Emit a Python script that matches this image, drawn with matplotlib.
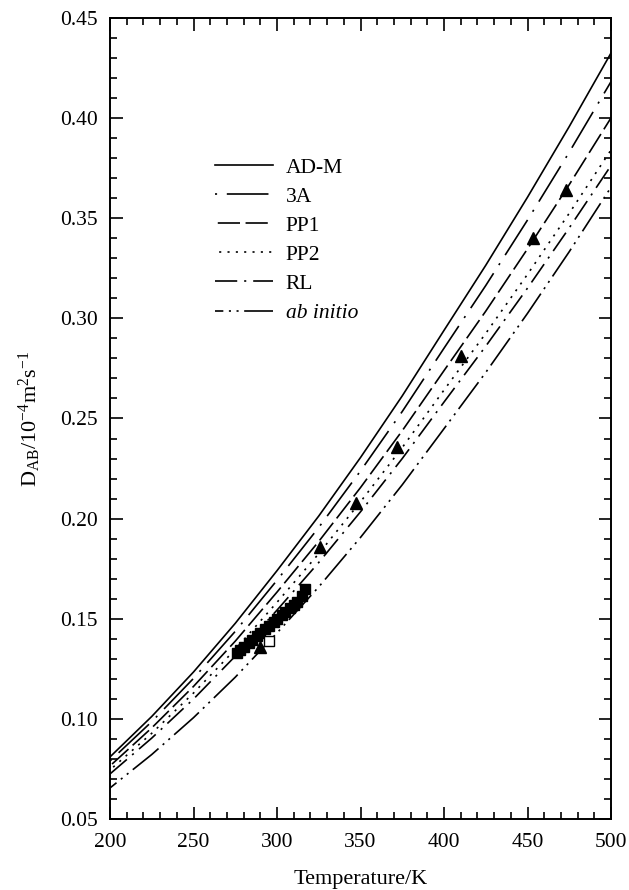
import matplotlib
matplotlib.use("Agg")
import matplotlib.pyplot as plt

# teploty, pro ktere jsou odectene hodnoty krivek
teploty = [200, 225, 250, 275, 300, 325, 350, 375, 400, 425, 450, 475, 500]

# D_AB / 1e-4 m^2 s^-1
ad_m = [0.0810, 0.1012, 0.1234, 0.1477, 0.1740, 0.2013, 0.2305, 0.2613, 0.2940, 0.3265, 0.3605, 0.3958, 0.4325]
a3 = [0.0790, 0.0986, 0.1202, 0.1437, 0.1692, 0.1956, 0.2238, 0.2535, 0.2851, 0.3164, 0.3491, 0.3830, 0.4182]
pp1 = [0.0765, 0.0955, 0.1162, 0.1388, 0.1633, 0.1886, 0.2155, 0.2439, 0.2739, 0.3036, 0.3347, 0.3668, 0.4001]
pp2 = [0.0745, 0.0928, 0.1129, 0.1347, 0.1582, 0.1825, 0.2084, 0.2355, 0.2642, 0.2925, 0.3220, 0.3525, 0.3841]
rl = [0.0725, 0.0904, 0.1099, 0.1313, 0.1543, 0.1781, 0.2034, 0.2300, 0.2582, 0.2861, 0.3151, 0.3452, 0.3763]
ab_initio = [0.0655, 0.0822, 0.1006, 0.1208, 0.1429, 0.1659, 0.1906, 0.2169, 0.2449, 0.2730, 0.3025, 0.3333, 0.3655]

# experimentalni body
troj_t = [290, 326, 347, 372, 410, 453, 473]
troj_d = [0.136, 0.186, 0.208, 0.236, 0.281, 0.340, 0.364]

ctv_t = [276, 278, 280, 283, 285, 288, 290, 293, 295, 298, 300, 303, 305, 308, 310, 312, 315, 317]
ctv_d = [0.1330, 0.1345, 0.1360, 0.1380, 0.1395, 0.1415, 0.1430, 0.1450, 0.1465, 0.1485,
         0.1500, 0.1520, 0.1535, 0.1555, 0.1570, 0.1585, 0.1615, 0.1650]

otevr_t = [295]
otevr_d = [0.139]


def zobraz_graf():
    plt.rcParams['font.family'] = ['Liberation Serif', 'DejaVu Serif']
    plt.rcParams['mathtext.fontset'] = 'custom'
    plt.rcParams['mathtext.rm'] = 'Liberation Serif'
    plt.rcParams['mathtext.it'] = 'Liberation Serif:italic'
    plt.rcParams['font.size'] = 15.5
    plt.rcParams['lines.scale_dashes'] = False

    fig = plt.figure(figsize=(6.29, 8.90), dpi=100)
    ax = fig.add_axes([0.1749, 0.0798, 0.7965, 0.9])

    kw = dict(color='black', lw=1.2)
    ax.plot(teploty, ad_m, label='AD-M', **kw)
    ax.plot(teploty, a3, label='3A', ls=(37, (30, 7, 1.5, 7)), **kw)
    ax.plot(teploty, pp1, label='PP1', ls=(18, (16, 4)), **kw)
    ax.plot(teploty, pp2, label='PP2', ls=(3, (1.5, 4.5)), **kw)
    ax.plot(teploty, rl, label='RL', ls=(0, (16, 5, 1.5, 5)), **kw)
    ax.plot(teploty, ab_initio, label='ab initio', ls=(18, (24, 4, 1.5, 4, 1.5, 4)), **kw)

    # namerena data
    ax.plot(ctv_t, ctv_d, 's', color='black', ms=7.5)
    ax.plot(otevr_t, otevr_d, 's', mfc='white', mec='black', ms=7, mew=1)
    ax.plot(troj_t, troj_d, '^', color='black', ms=8)

    ax.set_xlim(200, 500)
    ax.set_ylim(0.05, 0.45)
    ax.set_xticks(range(200, 501, 50))
    ax.set_xticks(range(200, 501, 10), minor=True)
    ax.set_yticks([0.05 + 0.05 * i for i in range(9)])
    ax.set_yticks([0.05 + 0.01 * i for i in range(41)], minor=True)
    ax.yaxis.set_major_formatter(matplotlib.ticker.FormatStrFormatter('%.2f'))

    ax.tick_params(which='both', direction='in', top=True, right=True, width=1.2)
    ax.tick_params(which='major', length=9)
    ax.tick_params(which='minor', length=5)
    ax.tick_params(axis='x', which='major', pad=10)
    ax.tick_params(axis='y', which='major', pad=9)
    for s in ax.spines.values():
        s.set_linewidth(1.4)

    ax.set_xlabel('Temperature/K', labelpad=13, fontsize=16)
    ax.set_ylabel(r'D$_{\mathrm{AB}}$/10$^{-4}$m$^{2}$s$^{-1}$', labelpad=12, fontsize=16)

    leg = ax.legend(loc='upper left', bbox_to_anchor=(0.17, 0.85), frameon=False,
                    handlelength=2.7, handletextpad=0.6, labelspacing=0.42, fontsize=15.5)
    leg.get_texts()[5].set_style('italic')

    fig.savefig('out.png', dpi=100)


if __name__ == "__main__":
    zobraz_graf()
